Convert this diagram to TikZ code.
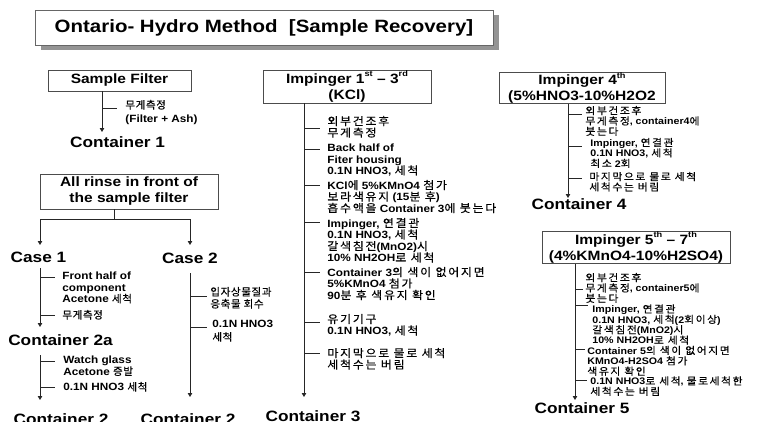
\documentclass[tikz,border=0pt]{standalone}
\usepackage{fontspec}
\setmainfont{Liberation Sans}[FakeStretch=1.12]
\newfontfamily\widefont{Liberation Sans}[FakeStretch=1.15]
% Korean faces: a plain one for the left columns, a wider-spaced one for the right ones
\newfontfamily\krN{Noto Sans CJK KR}[LetterSpace=6, FakeBold=0.4]
\newfontfamily\krW{Noto Sans CJK KR}[Scale=1.05, FakeStretch=1.08, LetterSpace=16, FakeBold=0.4]
\let\krcur\krN
\usetikzlibrary{arrows.meta,shadows}
\newcommand\hg[1]{{\krcur\mdseries #1}}
\newcommand\sups[1]{\raisebox{0.5em}{\fontsize{8}{8}\selectfont #1}}

\begin{document}
\begin{tikzpicture}[x=1pt,y=-1pt,
  line width=0.8pt,
  every node/.style={inner sep=0pt},
  hdr/.style={draw=black!70, line width=0.9pt, fill=white, align=center,
    font=\widefont\bfseries\fontsize{13.5}{16}\selectfont},
  cont/.style={font=\widefont\bfseries\fontsize{15}{18}\selectfont},
  note/.style={anchor=north west, align=left,
    font=\bfseries\fontsize{10.5}{11.5}\selectfont,
    execute at begin node=\rule{0pt}{8.5pt}},
  notew/.style={note, font=\let\krcur\krW\bfseries\fontsize{10.5}{11.5}\selectfont},
  notes/.style={note, font=\let\krcur\krW\bfseries\fontsize{9.5}{10.4}\selectfont},
  flow/.style={draw=black!85, -{Triangle[length=4pt,width=4.5pt]}},
  tick/.style={draw=black!85},
]
\useasboundingbox (0,0) rectangle (767,421);
\clip (0,0) rectangle (767,421);

% title
\node[draw=black!60, line width=0.9pt, fill=white, minimum width=458pt, minimum height=35pt,
  drop shadow={shadow xshift=6pt, shadow yshift=-5pt, fill=black!42, opacity=1},
  font=\widefont\bfseries\fontsize{17.8}{20}\selectfont]
  (title) at (264,27.5) {Ontario- Hydro Method\ \ [Sample Recovery]};

% ---- sample filter ----
\node[hdr, minimum width=143pt, minimum height=21pt] (sf) at (119.5,80.5) {Sample Filter};
\coordinate (sfE) at (102,132);
\draw[flow] (sf.south -| sfE) -- (sfE);
\node[note] (sfN) at (125,99.6) {\hg{무게측정}\\[2.5pt](Filter + Ash)};
\coordinate (sfT) at (102,108);
\draw[tick, shorten >=8pt] (sfT) -- (sfT -| sfN.west);
\node[cont] (c1) at (117.5,142) {Container 1};

% ---- front rinse ----
\node[hdr, minimum width=178pt, minimum height=35pt] (rinse) at (129,191.5)
  {All rinse in front of\\the sample filter};
\coordinate (rj) at (114,219);
\coordinate (rl) at (40,219);
\coordinate (rr) at (190,219);
\coordinate (rlE) at (40,245);
\coordinate (rrE) at (190,245);
\draw[tick] (rinse.south -| rj) -- (rj);
\draw[tick] (rl) -- (rr);
\draw[flow] (rl) -- (rlE);
\draw[flow] (rr) -- (rrE);
\node[cont] (case1) at (38.5,257) {Case 1};
\node[cont] (case2) at (190,258) {Case 2};

% case 1
\coordinate (k1s) at (40,268);
\coordinate (k1e) at (40,327);
\draw[flow] (k1s) -- (k1e);
\node[note] (k1n1) at (62,271.6) {Front half of\\component\\Acetone \hg{세척}};
\node[note] (k1n2) at (62,309.6) {\hg{무게측정}};
\coordinate (k1t1) at (40,277);
\coordinate (k1t2) at (40,315);
\draw[tick, shorten >=7pt] (k1t1) -- (k1t1 -| k1n1.west);
\draw[tick, shorten >=7pt] (k1t2) -- (k1t2 -| k1n2.west);
\node[cont] (c2a) at (60.5,340) {Container 2a};

\coordinate (k3s) at (40,355);
\coordinate (k3e) at (40,400);
\draw[flow] (k3s) -- (k3e);
\node[note] (k3n1) at (63,355.6) {Watch glass\\Acetone \hg{증발}};
\node[note] (k3n2) at (63,381.6) {0.1N HNO3 \hg{세척}};
\coordinate (k3t1) at (40,361);
\coordinate (k3t2) at (40,387);
\draw[tick, shorten >=8pt] (k3t1) -- (k3t1 -| k3n1.west);
\draw[tick, shorten >=8pt] (k3t2) -- (k3t2 -| k3n2.west);
\node[cont] (c2l) at (61,419) {Container 2};

% case 2
\coordinate (k2s) at (190,273);
\coordinate (k2e) at (190,397);
\draw[flow] (k2s) -- (k2e);
\node[note] (k2n1) at (210,286.6) {\hg{입자상물질과}\\[0.5pt]\hg{응축물 회수}};
\node[note] (k2n2) at (212,319.6) {0.1N HNO3\\[2pt]\hg{세척}};
\coordinate (k2t1) at (190,296);
\coordinate (k2t2) at (190,327);
\draw[tick, shorten >=3pt] (k2t1) -- (k2t1 -| k2n1.west);
\draw[tick, shorten >=5pt] (k2t2) -- (k2t2 -| k2n2.west);
\node[cont] (c2r) at (188,419) {Container 2};

% ---- impinger 1-3 ----
\node[hdr, minimum width=168pt, minimum height=33pt] (i13) at (347,86.5)
  {Impinger 1\sups{st} – 3\sups{rd}\\(KCl)};
\coordinate (i13e) at (304,397);
\draw[flow] (i13.south -| i13e) -- (i13e);
\node[notew] (a1) at (327,115.6) {\hg{외부건조후}\\\hg{무게측정}};
\node[notew] (a2) at (327,143.6) {Back half of\\Fiter housing\\0.1N HNO3, \hg{세척}};
\node[notew] (a3) at (327,179.6) {KCl\hg{에} 5\%KMnO4 \hg{첨가}\\\hg{보라색유지} (15\hg{분 후})\\\hg{흡수액을} Container 3\hg{에 붓는다}};
\node[notew] (a4) at (327,217.6) {Impinger, \hg{연결관}\\0.1N HNO3, \hg{세척}\\\hg{갈색침전}(MnO2)\hg{시}\\10\% NH2OH\hg{로 세척}};
\node[notew] (a5) at (327,266.6) {Container 3\hg{의 색이 없어지면}\\5\%KMnO4 \hg{첨가}\\90\hg{분 후 색유지 확인}};
\node[notew] (a6) at (327,313.6) {\hg{유기기구}\\0.1N HNO3, \hg{세척}};
\node[notew] (a7) at (327,347.6) {\hg{마지막으로 물로 세척}\\\hg{세척수는 버림}};
\foreach \n/\ty in {a1/128, a2/149, a3/185, a4/222, a5/272, a6/322, a7/353} {
  \coordinate (\n t) at (304,\ty);
  \draw[tick, shorten >=7pt] (\n t) -- (\n t -| \n.west);
}
\node[cont] (c3) at (313,416) {Container 3};

% ---- impinger 4 ----
\node[hdr, minimum width=166pt, minimum height=30pt] (i4) at (582,88)
  {Impinger 4\sups{th}\\(5\%HNO3-10\%H2O2};
\coordinate (i4e) at (568,198);
\draw[flow] (i4.south -| i4e) -- (i4e);
\node[notes] (b1) at (585,105.6) {\hg{외부건조후}\\\hg{무게측정}, container4\hg{에}\\\hg{붓는다}};
\node[notes] (b2) at (590,137.6) {Impinger, \hg{연결관}\\0.1N HNO3, \hg{세척}\\\hg{최소} 2\hg{회}};
\node[notes] (b3) at (589,171.6) {\hg{마지막으로 물로 세척}\\\hg{세척수는 버림}};
\foreach \n/\ty/\g in {b1/114/3, b2/146/8, b3/178/7} {
  \coordinate (\n t) at (568,\ty);
  \draw[tick, shorten >=\g pt] (\n t) -- (\n t -| \n.west);
}
\node[cont] (c4) at (579,204) {Container 4};

% ---- impinger 5-7 ----
\node[hdr, minimum width=188pt, minimum height=29pt] (i57) at (636,247.5)
  {Impinger 5\sups{th} – 7\sups{th}\\(4\%KMnO4-10\%H2SO4)};
\coordinate (i57e) at (575,400);
\draw[flow] (i57.south -| i57e) -- (i57e);
\node[notes] (d1) at (585,272.6) {\hg{외부건조후}\\\hg{무게측정}, container5\hg{에}\\\hg{붓는다}};
\node[notes] (d2) at (592,304) {Impinger, \hg{연결관}\\0.1N HNO3, \hg{세척}(2\hg{회이상})\\\hg{갈색침전}(MnO2)\hg{시}\\10\% NH2OH\hg{로 세척}};
\node[notes] (d3) at (587,345.5) {Container 5\hg{의 색이 없어지면}\\KMnO4-H2SO4 \hg{첨가}\\\hg{색유지 확인}};
\node[notes] (d4) at (590,376) {0.1N NHO3\hg{로 세척}, \hg{물로세척한}\\\hg{세척수는 버림}};
\foreach \n/\ty/\g in {d1/289/2, d2/305/4, d3/349/2, d4/380/3} {
  \coordinate (\n t) at (575,\ty);
  \draw[tick, shorten >=\g pt] (\n t) -- (\n t -| \n.west);
}
\node[cont] (c5) at (582,408) {Container 5};
\end{tikzpicture}
\end{document}
